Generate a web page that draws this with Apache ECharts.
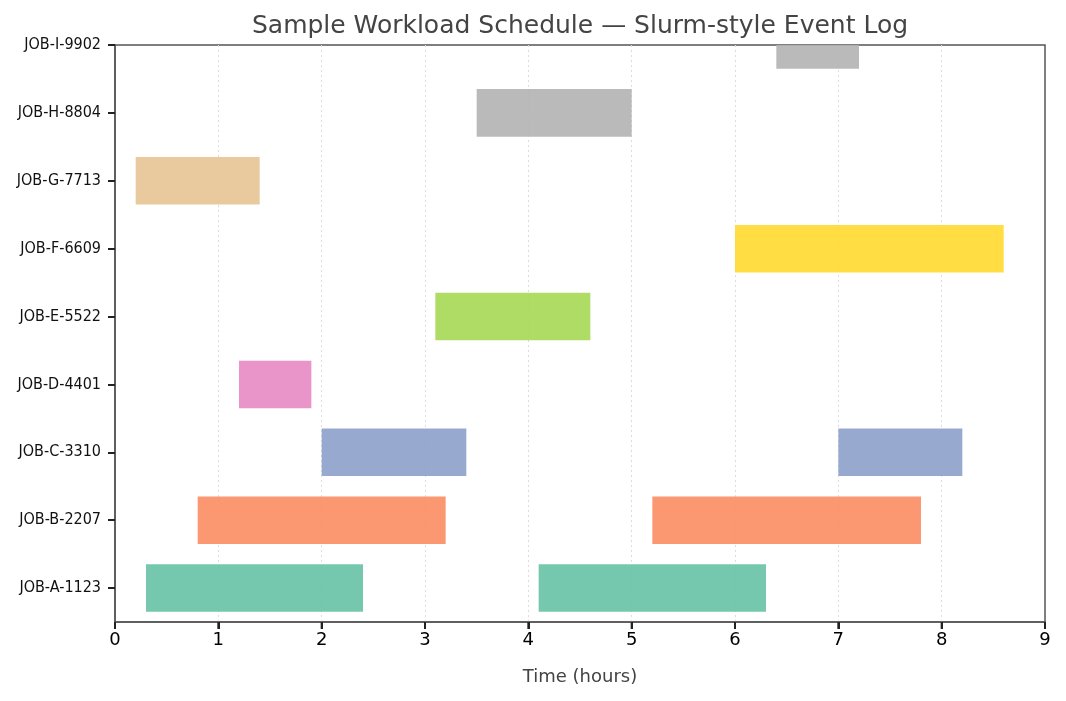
<!DOCTYPE html>
<html>
<head>
<meta charset="utf-8">
<script src="https://cdn.jsdelivr.net/npm/echarts@6/dist/echarts.min.js"></script>
<style>
  html, body { margin: 0; padding: 0; background: #fff; }
  #chart { width: 1066px; height: 701px; }
</style>
</head>
<body>
<div id="chart"></div>
<script>
// job labels, bottom to top
const jobNames = ['JOB-A-1123', 'JOB-B-2207', 'JOB-C-3310', 'JOB-D-4401', 'JOB-E-5522',
  'JOB-F-6609', 'JOB-G-7713', 'JOB-H-8804', 'JOB-I-9902'];
const jobColors = ['#66c2a5', '#fc8d62', '#8da0cb', '#e78ac3', '#a6d854',
  '#ffd92f', '#e5c494', '#b3b3b3', '#b3b3b3'];

// one entry per run segment
const segJob   = [0,   0,   1,   1,   2,   2,   3,   4,   5,   6,   7,   8];
const segStart = [0.3, 4.1, 0.8, 5.2, 2.0, 7.0, 1.2, 3.1, 6.0, 0.2, 3.5, 6.4];
const segEnd   = [2.4, 6.3, 3.2, 7.8, 3.4, 8.2, 1.9, 4.6, 8.6, 1.4, 5.0, 7.2];

const xTicks = [0, 1, 2, 3, 4, 5, 6, 7, 8, 9];
const yTicks = [0, 1, 2, 3, 4, 5, 6, 7, 8];
const yMin = -0.5;

const segments = segJob.map((j, i) => ({
  value: [j, segStart[i], segEnd[i]],
  itemStyle: { color: jobColors[j], opacity: 0.9 }
}));

function renderBar(params, api) {
  const idx = api.value(0);
  const p0 = api.coord([api.value(1), idx]);
  const p1 = api.coord([api.value(2), idx]);
  const h = api.size([0, 1])[1] * 0.7;
  const shape = echarts.graphic.clipRectByRect(
    { x: p0[0], y: p0[1] - h / 2, width: p1[0] - p0[0], height: h },
    { x: params.coordSys.x, y: params.coordSys.y, width: params.coordSys.width, height: params.coordSys.height }
  );
  return shape && { type: 'rect', shape, style: api.style() };
}

// short marks hanging below the bottom spine at each x tick
function renderXTick(params, api) {
  const p = api.coord([api.value(0), api.value(1)]);
  return {
    type: 'line',
    shape: { x1: p[0], y1: p[1], x2: p[0], y2: p[1] + 7 },
    style: { stroke: '#222', lineWidth: 2 }
  };
}

const tickStyle = { color: '#222', width: 2 };

const chart = echarts.init(document.getElementById('chart'));
chart.setOption({
  animation: false,
  title: {
    text: 'Sample Workload Schedule — Slurm-style Event Log',
    left: 575, top: 9, textAlign: 'center',
    textStyle: { fontFamily: 'DejaVu Sans', fontSize: 25, fontWeight: 'normal', color: '#444' }
  },
  grid: {
    left: 115, right: 21, top: 45, bottom: 79,
    show: true, borderColor: '#555', borderWidth: 1.5, backgroundColor: 'transparent'
  },
  xAxis: {
    type: 'value', min: 0, max: 9, interval: 1,
    name: 'Time (hours)', nameLocation: 'middle', nameGap: 46,
    nameTextStyle: { fontFamily: 'DejaVu Sans', fontSize: 18, color: '#444' },
    axisLine: { show: true, onZero: false, lineStyle: { color: '#555', width: 1.5 } },
    axisTick: { show: true, length: 7, customValues: xTicks, lineStyle: tickStyle },
    axisLabel: { fontFamily: 'DejaVu Sans', fontSize: 18, color: '#000', margin: 9,
      customValues: xTicks },
    splitLine: { show: true, showMinLine: false, showMaxLine: false,
      lineStyle: { color: '#ddd', type: [2, 3], width: 1 } }
  },
  yAxis: {
    type: 'value', min: yMin, max: 8,
    axisLine: { show: true, onZero: false, lineStyle: { color: '#555', width: 1.5 } },
    axisTick: { show: true, length: 7, customValues: yTicks, lineStyle: tickStyle },
    axisLabel: {
      customValues: yTicks, margin: 14,
      fontFamily: 'DejaVu Sans Condensed', fontSize: 16, color: '#111',
      formatter: v => jobNames[Math.round(v)] || ''
    },
    splitLine: { show: false }
  },
  series: [{
    type: 'custom',
    renderItem: renderBar,
    encode: { x: [1, 2], y: 0 },
    data: segments
  }, {
    type: 'custom',
    clip: false,
    silent: true,
    z: 10,
    renderItem: renderXTick,
    encode: { x: 0, y: 1 },
    data: xTicks.map(v => [v, yMin])
  }]
});
</script>
</body>
</html>
